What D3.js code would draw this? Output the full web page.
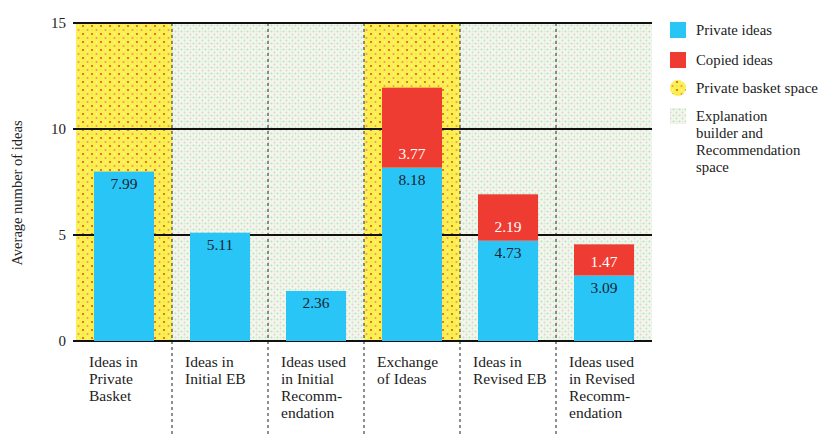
<!DOCTYPE html>
<html><head><meta charset="utf-8">
<script src="https://cdn.jsdelivr.net/npm/d3@7"></script>
<style>
body{margin:0;background:#fff;}
</style></head>
<body><svg id="c" width="821" height="434"></svg>
<script>
const categories = ["Ideas in Private Basket","Ideas in Initial EB","Ideas used in Initial Recommendation","Exchange of Ideas","Ideas in Revised EB","Ideas used in Revised Recommendation"];
const categoryLines = [["Ideas in","Private","Basket"],["Ideas in","Initial EB"],["Ideas used","in Initial","Recomm-","endation"],["Exchange","of Ideas"],["Ideas in","Revised EB"],["Ideas used","in Revised","Recomm-","endation"]];
const privateIdeas = [7.99, 5.11, 2.36, 8.18, 4.73, 3.09];
const copiedIdeas = [0, 0, 0, 3.77, 2.19, 1.47];
const spaceType = ["basket","eb","eb","basket","eb","eb"];
const yTicks = [0,5,10,15];
const legendItems = [["Private ideas"],["Copied ideas"],["Private basket space"],["Explanation","builder and","Recommendation","space"]];

const FONT = "'Liberation Serif', 'Tinos', 'DejaVu Serif', serif";
const svg = d3.select("#c").attr("font-family",FONT);
const L=76,R=652,T=23,B=341;
const x = d3.scaleBand().domain(categories).range([L,R]).padding(0);
const xb = d3.scaleBand().domain(categories).range([L,R]).paddingInner(0.375).paddingOuter(0.1875);
const y = d3.scaleLinear().domain([0,15]).range([B,T]);

const defs = svg.append("defs");
const py = defs.append("pattern").attr("id","pyel").attr("patternUnits","userSpaceOnUse").attr("width",9).attr("height",8);
py.append("rect").attr("width",9).attr("height",8).attr("fill","#fcf04a");
py.append("circle").attr("cx",2).attr("cy",2).attr("r",1.1).attr("fill","#e4503f");
py.append("circle").attr("cx",6.5).attr("cy",6).attr("r",1.0).attr("fill","#ee8a9a");
py.append("circle").attr("cx",6.5).attr("cy",2).attr("r",0.7).attr("fill","#fff8d0");
py.append("circle").attr("cx",2).attr("cy",6).attr("r",0.6).attr("fill","#b9d98a");
const pg = defs.append("pattern").attr("id","pgrn").attr("patternUnits","userSpaceOnUse").attr("width",6).attr("height",6);
pg.append("rect").attr("width",6).attr("height",6).attr("fill","#f1f8ea");
pg.append("circle").attr("cx",1.5).attr("cy",1.5).attr("r",1.0).attr("fill","#bde0c4");
pg.append("circle").attr("cx",4.5).attr("cy",4.5).attr("r",1.0).attr("fill","#ebcdd3");
pg.append("circle").attr("cx",4.5).attr("cy",1.5).attr("r",0.7).attr("fill","#cfe4f0");

svg.append("g").selectAll("rect").data(categories).join("rect")
  .attr("x",d=>x(d)).attr("y",y(15)).attr("width",x.bandwidth()).attr("height",y(0)-y(15))
  .attr("fill",(d,i)=>spaceType[i]==="basket"?"url(#pyel)":"url(#pgrn)");

svg.append("g").selectAll("line").data(categories.slice(1)).join("line")
  .attr("x1",d=>x(d)).attr("x2",d=>x(d)).attr("y1",y(15)).attr("y2",434)
  .attr("stroke","#555").attr("stroke-width",1.3).attr("stroke-dasharray","3,3");

svg.append("g").selectAll("line").data(yTicks).join("line")
  .attr("x1",L-3).attr("x2",R).attr("y1",d=>y(d)).attr("y2",d=>y(d))
  .attr("stroke","#111").attr("stroke-width",2);

svg.append("g").selectAll("text").data(yTicks).join("text")
  .attr("x",66).attr("y",d=>y(d)).attr("dy","0.35em").attr("text-anchor","end")
  .attr("font-size",15).attr("fill","#222").text(d=>d);
svg.append("text").attr("transform","translate(22,193) rotate(-90)").attr("text-anchor","middle")
  .attr("font-size",14.5).attr("fill","#222").text("Average number of ideas");

const bars = svg.append("g");
bars.selectAll("rect.p").data(categories).join("rect").attr("class","p")
  .attr("x",d=>xb(d)).attr("width",xb.bandwidth())
  .attr("y",(d,i)=>y(privateIdeas[i])).attr("height",(d,i)=>y(0)-y(privateIdeas[i]))
  .attr("fill","#29c5f6");
bars.selectAll("rect.c").data(categories.filter((d,i)=>copiedIdeas[i]>0)).join("rect").attr("class","c")
  .attr("x",d=>xb(d)).attr("width",xb.bandwidth())
  .attr("y",d=>{const i=categories.indexOf(d);return y(privateIdeas[i]+copiedIdeas[i]);})
  .attr("height",d=>{const i=categories.indexOf(d);return y(privateIdeas[i])-y(privateIdeas[i]+copiedIdeas[i]);})
  .attr("fill","#ef3c33");

svg.append("g").selectAll("text").data(categories).join("text")
  .attr("x",d=>xb(d)+xb.bandwidth()/2).attr("y",(d,i)=>y(privateIdeas[i])+12).attr("dy","0.35em")
  .attr("text-anchor","middle").attr("font-size",15.5).attr("fill","#1a2633")
  .text((d,i)=>privateIdeas[i].toFixed(2));
svg.append("g").selectAll("text").data(categories.filter((d,i)=>copiedIdeas[i]>0)).join("text")
  .attr("x",d=>xb(d)+xb.bandwidth()/2).attr("y",d=>y(privateIdeas[categories.indexOf(d)])-14).attr("dy","0.35em")
  .attr("text-anchor","middle").attr("font-size",15.5).attr("fill","#fff")
  .text(d=>copiedIdeas[categories.indexOf(d)].toFixed(2));

const xl = svg.append("g").selectAll("text").data(categories).join("text")
  .attr("x",d=>x(d)+13).attr("y",362).attr("font-size",15.5).attr("fill","#222");
xl.each(function(d,i){
  d3.select(this).selectAll("tspan").data(categoryLines[i]).join("tspan")
    .attr("x",x(d)+13).attr("y",(t,j)=>362+j*16.8).attr("dy","0.35em").text(t=>t);
});

const lg = svg.append("g");
const lgY=[22,52,80,108];
const lgFill=["#29c5f6","#ef3c33","url(#pyel)","url(#pgrn)"];
legendItems.forEach((lines,i)=>{
  if(i===2){
    lg.append("circle").attr("cx",678).attr("cy",lgY[i]+8).attr("r",8).attr("fill","url(#pyel)");
  } else {
    lg.append("rect").attr("x",670).attr("y",lgY[i]).attr("width",16).attr("height",16).attr("fill",lgFill[i]);
  }
  lines.forEach((t,j)=>{
    lg.append("text").attr("x",696).attr("y",lgY[i]+8+j*17).attr("dy","0.35em")
      .attr("font-size",14.8).attr("textLength",i===2?122:null).attr("lengthAdjust","spacingAndGlyphs")
      .attr("fill","#222").text(t);
  });
});
</script></body></html>
